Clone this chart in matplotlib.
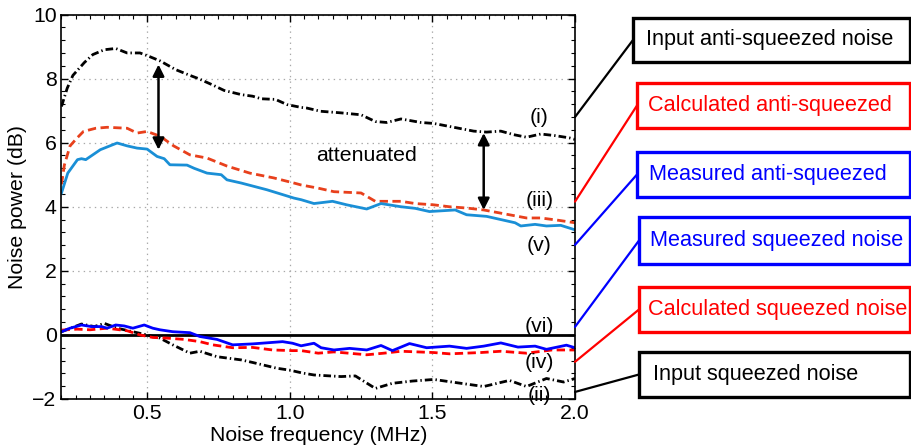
import numpy as np
import matplotlib.pyplot as plt
from matplotlib.patches import Rectangle, ConnectionPatch
from matplotlib.ticker import MultipleLocator, FormatStrFormatter

plt.rcParams['font.family'] = ['Liberation Sans', 'DejaVu Sans']
plt.rcParams['font.size'] = 15
plt.rcParams['lines.scale_dashes'] = False

# (i) input anti-squeezed noise
f_i = [0.20, 0.22, 0.24, 0.28, 0.31, 0.35, 0.39, 0.43, 0.475, 0.505, 0.546, 0.60, 0.65,
       0.68, 0.73, 0.77, 0.83, 0.87, 0.90, 0.95, 0.99, 1.04, 1.06, 1.108, 1.18, 1.25,
       1.30, 1.34, 1.39, 1.46, 1.505, 1.575, 1.645, 1.69, 1.74, 1.785, 1.83, 1.88,
       1.93, 1.98, 2.00]
p_i = [7.13, 7.7, 8.1, 8.5, 8.75, 8.9, 8.94, 8.8, 8.8, 8.7, 8.55, 8.28, 8.1,
       8.0, 7.8, 7.63, 7.5, 7.45, 7.37, 7.35, 7.19, 7.1, 7.08, 6.98, 6.93, 6.87,
       6.66, 6.63, 6.74, 6.63, 6.6, 6.48, 6.36, 6.33, 6.36, 6.25, 6.17, 6.27,
       6.22, 6.15, 6.1]

# (iii) calculated anti-squeezed
f_iii = [0.20, 0.21, 0.23, 0.255, 0.277, 0.32, 0.36, 0.43, 0.465, 0.50, 0.546, 0.593,
         0.65, 0.71, 0.78, 0.86, 0.944, 1.015, 1.04, 1.10, 1.155, 1.25, 1.30, 1.39,
         1.44, 1.505, 1.56, 1.62, 1.68, 1.74, 1.83, 1.88, 1.94, 2.00]
p_iii = [4.7, 5.3, 5.9, 6.15, 6.35, 6.45, 6.48, 6.45, 6.3, 6.35, 6.2, 5.9,
         5.62, 5.52, 5.27, 5.05, 4.9, 4.74, 4.68, 4.58, 4.47, 4.43, 4.17, 4.17,
         4.1, 4.06, 4.0, 3.96, 3.9, 3.8, 3.65, 3.65, 3.58, 3.5]

# (v) measured anti-squeezed
f_v = [0.20, 0.222, 0.256, 0.27, 0.285, 0.336, 0.395, 0.43, 0.465, 0.50, 0.535, 0.56,
       0.58, 0.64, 0.665, 0.71, 0.76, 0.78, 0.83, 0.92, 1.015, 1.04, 1.085, 1.15, 1.20,
       1.27, 1.32, 1.39, 1.44, 1.49, 1.58, 1.62, 1.69, 1.74, 1.79, 1.81, 1.86, 1.90,
       1.95, 2.00]
p_v = [4.43, 5.05, 5.47, 5.5, 5.47, 5.78, 5.99, 5.9, 5.83, 5.8, 5.57, 5.5,
       5.31, 5.3, 5.2, 5.05, 5.0, 4.84, 4.74, 4.53, 4.27, 4.22, 4.1, 4.17, 4.06,
       3.93, 4.1, 4.0, 3.95, 3.85, 3.9, 3.75, 3.7, 3.6, 3.5, 3.4, 3.45, 3.4,
       3.42, 3.28]

# (vi) shot noise level
vi_level = 0.0

# (iv) calculated squeezed noise
f_iv = [0.20, 0.255, 0.30, 0.36, 0.43, 0.475, 0.52, 0.57, 0.63, 0.685, 0.73, 0.80,
        0.87, 0.94, 1.01, 1.04, 1.10, 1.155, 1.27, 1.33, 1.39, 1.505, 1.56, 1.67,
        1.74, 1.83, 1.92, 2.00]
p_iv = [0.15, 0.18, 0.16, 0.21, 0.13, 0.0, -0.08, -0.1, -0.14, -0.21, -0.31, -0.4,
        -0.39, -0.47, -0.49, -0.49, -0.57, -0.53, -0.62, -0.57, -0.51, -0.55, -0.59,
        -0.55, -0.51, -0.57, -0.47, -0.47]

# measured squeezed noise
f_ms = [0.20, 0.23, 0.27, 0.305, 0.34, 0.36, 0.39, 0.42, 0.45, 0.49, 0.52, 0.545,
        0.59, 0.65, 0.685, 0.745, 0.80, 0.87, 0.975, 1.01, 1.04, 1.085, 1.11, 1.155,
        1.21, 1.27, 1.32, 1.36, 1.42, 1.48, 1.56, 1.62, 1.68, 1.74, 1.80, 1.86, 1.90,
        1.97, 2.00]
p_ms = [0.1, 0.21, 0.31, 0.26, 0.26, 0.21, 0.31, 0.28, 0.21, 0.31, 0.21, 0.16,
        0.1, 0.07, -0.05, -0.14, -0.31, -0.28, -0.21, -0.26, -0.34, -0.26, -0.4, -0.47,
        -0.42, -0.47, -0.33, -0.49, -0.27, -0.4, -0.35, -0.42, -0.35, -0.25, -0.38,
        -0.35, -0.45, -0.32, -0.4]

# (ii) input squeezed noise
f_ii = [0.20, 0.27, 0.315, 0.35, 0.395, 0.45, 0.50, 0.545, 0.59, 0.65, 0.685, 0.745,
        0.83, 0.87, 0.955, 1.00, 1.045, 1.085, 1.18, 1.23, 1.30, 1.36, 1.43, 1.505,
        1.60, 1.68, 1.77, 1.83, 1.90, 1.96, 2.00]
p_ii = [0.1, 0.34, 0.26, 0.36, 0.21, 0.1, 0.0, -0.1, -0.31, -0.57, -0.51, -0.68,
        -0.78, -0.86, -1.04, -1.1, -1.19, -1.25, -1.3, -1.28, -1.67, -1.51, -1.44,
        -1.39, -1.51, -1.61, -1.42, -1.61, -1.36, -1.47, -1.36]

curve_labels = ['(i)', '(iii)', '(v)', '(vi)', '(iv)', '(ii)']
label_y = [6.8, 4.2, 2.8, 0.25, -0.85, -1.88]
conn_y = [6.8, 4.16, 2.81, 0.25, -0.84, -1.78]

box_texts = ['Input anti-squeezed noise', 'Calculated anti-squeezed',
             'Measured anti-squeezed', 'Measured squeezed noise',
             'Calculated squeezed noise', 'Input squeezed noise']
box_colors = ['black', '#ff0000', '#0000ff', '#0000ff', '#ff0000', 'black']
# box left / top / bottom in figure pixels
box_left = [633, 637, 637, 639, 639, 639]
box_top = [18, 83, 152, 217, 287, 352]
box_bot = [62, 128, 197, 264, 332, 397]
box_text_pad = [13, 11, 12, 11, 9, 14]

W, H = 912, 446
fig = plt.figure(figsize=(W / 100, H / 100), dpi=100)
ax = fig.add_axes([61.5 / W, 1 - 399 / H, (575 - 61.5) / W, (399 - 14.5) / H])

black_dd = (0, (5.5, 2.2, 1.0, 2.2))
red_dash = (0, (6, 3.2))

ax.plot(f_i, p_i, color='black', lw=2.0, linestyle=black_dd)
ax.plot(f_iii, p_iii, color='#e8401c', lw=2.0, linestyle=red_dash)
ax.plot(f_v, p_v, color='#1a8fd6', lw=2.0)
ax.axhline(vi_level, color='black', lw=2.0)
ax.plot(f_ii, p_ii, color='black', lw=2.0, linestyle=black_dd)
ax.plot(f_iv, p_iv, color='#ff0000', lw=2.0, linestyle=red_dash)
ax.plot(f_ms, p_ms, color='#0000ff', lw=2.0)

# attenuation arrows
arrow_kw = dict(arrowstyle='<|-|>', color='black', lw=1.8,
                mutation_scale=17, shrinkA=0, shrinkB=0)
ax.annotate('', xy=(0.54, 8.44), xytext=(0.54, 5.78), arrowprops=arrow_kw)
ax.annotate('', xy=(1.68, 6.3), xytext=(1.68, 3.9), arrowprops=arrow_kw)
ax.text(1.27, 5.6, 'attenuated', ha='center', va='center', fontsize=15.3)

for lab, y in zip(curve_labels, label_y):
    ax.text(1.875, y, lab, ha='center', va='center', fontsize=15.3)

ax.set_xlim(0.2, 2.0)
ax.set_ylim(-2, 10)
ax.xaxis.set_major_locator(MultipleLocator(0.5))
ax.xaxis.set_minor_locator(MultipleLocator(0.05))
ax.yaxis.set_major_locator(MultipleLocator(2))
ax.yaxis.set_minor_locator(MultipleLocator(0.4))
ax.xaxis.set_major_formatter(FormatStrFormatter('%.1f'))
ax.tick_params(which='both', direction='in', top=True, right=True, labelsize=15.3)
ax.tick_params(which='major', length=5, width=1)
ax.tick_params(which='minor', length=3, width=0.8)
ax.grid(True, which='major', linestyle=(0, (1, 3)), color='#a8a8a8', lw=0.9)
for s in ax.spines.values():
    s.set_linewidth(1.2)
ax.set_xlabel('Noise frequency (MHz)', fontsize=15.3, labelpad=2)
ax.set_ylabel('Noise power (dB)', fontsize=15.3, labelpad=4)

# legend boxes with connectors
for txt, col, bl, bt, bb, pad, cy in zip(box_texts, box_colors, box_left, box_top,
                                         box_bot, box_text_pad, conn_y):
    x0 = bl / W
    y0 = 1 - bb / H
    rect = Rectangle((x0, y0), (910 - bl) / W, (bb - bt) / H, transform=fig.transFigure,
                     fill=False, edgecolor=col, lw=2.4, clip_on=False)
    fig.add_artist(rect)
    fig.text((bl + pad) / W, 1 - (bt + bb) / 2 / H, txt, color=col, fontsize=15.6,
             ha='left', va='center')
    con = ConnectionPatch(xyA=(2.0, cy), coordsA=ax.transData,
                          xyB=(x0, 1 - (bt + bb) / 2 / H), coordsB=fig.transFigure,
                          color=col, lw=1.6)
    fig.add_artist(con)

fig.savefig('out.png', dpi=100)
